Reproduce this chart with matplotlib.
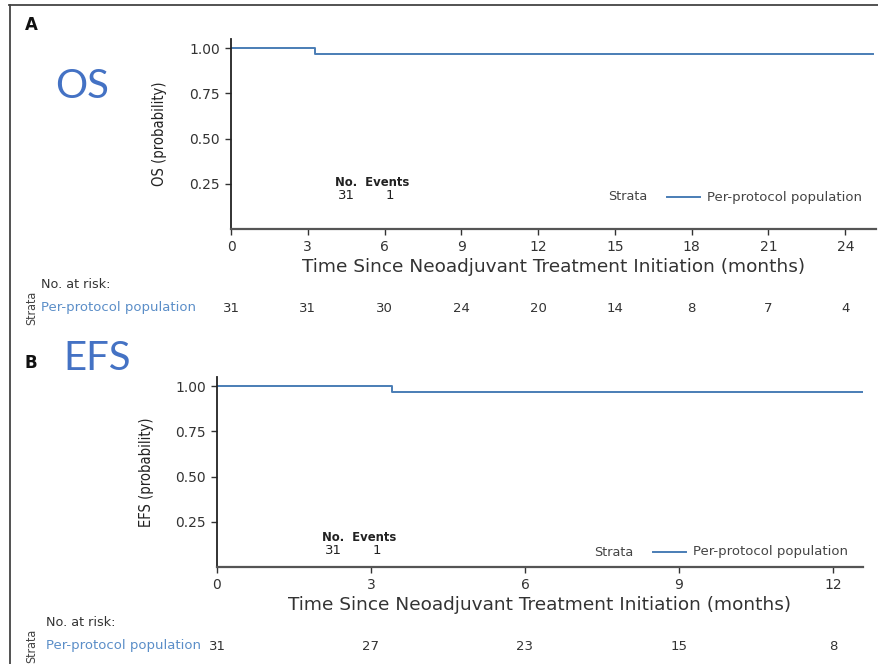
import matplotlib.pyplot as plt
from matplotlib.lines import Line2D
from matplotlib.transforms import blended_transform_factory

W, H = 879, 664
plt.rcParams["font.family"] = ["DejaVu Sans"]

# OS curve (panel A)
os_time = [0, 3.3, 25.1]
os_surv = [1.0, 0.968, 0.968]
os_risk_t = [0, 3, 6, 9, 12, 15, 18, 21, 24]
os_risk_n = [31, 31, 30, 24, 20, 14, 8, 7, 4]
os_xticks = [0, 3, 6, 9, 12, 15, 18, 21, 24]

# EFS curve (panel B)
efs_time = [0, 3.4, 12.58]
efs_surv = [1.0, 0.968, 0.968]
efs_risk_t = [0, 3, 6, 9, 12]
efs_risk_n = [31, 27, 23, 15, 8]
efs_xticks = [0, 3, 6, 9, 12]

n_total = 31
n_events = 1
yticks = [0.25, 0.50, 0.75, 1.00]

line_col = "#4a7db5"
strata_col = "#5b8ec8"
label_blue = "#4472C4"
small = 9.5


def fx(px):
    return px / W


def fy(py):
    return 1 - py / H


fig = plt.figure(figsize=(W / 100, H / 100), dpi=100)

# frame lines along the top and left edge
fig.add_artist(Line2D([fx(9), 1], [fy(5), fy(5)], color="#444444", lw=1.3))
fig.add_artist(Line2D([fx(9.5), fx(9.5)], [fy(5), 0], color="#444444", lw=1.3))


def km_panel(rect, times, surv, xticks, xmax, ylab, risk_t, risk_n,
             letter, big, pos):
    ax = fig.add_axes(rect)
    ax.step(times, surv, where="post", color=line_col, lw=1.4)
    ax.set_xlim(0, xmax)
    ax.set_ylim(0, 1.05)
    ax.set_xticks(xticks)
    ax.set_yticks(yticks)
    ax.set_yticklabels([f"{v:.2f}" for v in yticks])
    for s in ["top", "right"]:
        ax.spines[s].set_visible(False)
    ax.spines["left"].set_color("#222222")
    ax.spines["bottom"].set_color("#555555")
    ax.spines["left"].set_linewidth(1.3)
    ax.spines["bottom"].set_linewidth(1.6)
    ax.tick_params(axis="both", labelsize=10, colors="#333333", length=4,
                   width=1, pad=4)
    ax.set_xlabel("Time Since Neoadjuvant Treatment Initiation (months)",
                  fontsize=13.3, color="#333333", labelpad=3)
    ax.set_ylabel(ylab, fontsize=10.6, fontstretch="condensed",
                  color="#222222", labelpad=pos["ypad"])

    # number / events summary
    nx, ny = pos["no"]
    fig.text(fx(nx), fy(ny), "No.  Events", fontsize=8.4, weight="bold",
             color="#222222", va="baseline")
    fig.text(fx(nx + 3), fy(ny + 13), str(n_total), fontsize=9.5,
             color="#222222", va="baseline")
    fig.text(fx(nx + 51), fy(ny + 13), str(n_events), fontsize=9.5,
             color="#222222", va="baseline")

    # legend
    lx, ly = pos["leg"]
    fig.text(fx(lx), fy(ly), "Strata", fontsize=9.2, color="#444444",
             va="center")
    fig.add_artist(Line2D([fx(lx + 59), fx(lx + 92)], [fy(ly), fy(ly)],
                          color=line_col, lw=1.4))
    fig.text(fx(lx + 99), fy(ly), "Per-protocol population", fontsize=small,
             color="#444444", va="center")

    # risk table
    rx, ry = pos["risk"]
    fig.text(fx(rx), fy(ry - 23), "No. at risk:", fontsize=9.2,
             color="#333333", va="center")
    fig.text(fx(rx), fy(ry), "Per-protocol population", fontsize=small,
             color=strata_col, va="center")
    fig.text(fx(32), fy(ry), "Strata", fontsize=9, rotation=90,
             fontstretch="condensed", color="#444444",
             ha="center", va="center")
    tr = blended_transform_factory(ax.transData, fig.transFigure)
    for t, n in zip(risk_t, risk_n):
        ax.text(t, fy(ry), str(n), transform=tr, fontsize=small,
                color="#333333", ha="center", va="center")

    # panel letter and heading
    fig.text(fx(25), fy(pos["letter"]), letter, fontsize=12, weight="bold",
             color="#111111", va="baseline")
    bx, by = pos["big"]
    fig.text(fx(bx), fy(by), big, fontsize=29, color=label_blue,
             family=["Lato", "DejaVu Sans"], va="baseline")
    return ax


km_panel([fx(231), fy(229), fx(876) - fx(231), (229 - 39) / H],
         os_time, os_surv, os_xticks, 25.2, "OS (probability)",
         os_risk_t, os_risk_n, "A", "OS",
         {"no": (335, 186), "leg": (608, 197), "risk": (41, 308),
          "letter": 30, "big": (55, 98), "ypad": 16})

km_panel([fx(217), fy(567), fx(862.7) - fx(217), (567 - 377) / H],
         efs_time, efs_surv, efs_xticks, 12.58, "EFS (probability)",
         efs_risk_t, efs_risk_n, "B", "EFS",
         {"no": (322, 541), "leg": (594, 552), "risk": (46, 646),
          "letter": 368, "big": (63, 370), "ypad": 15})

fig.savefig("out.png", dpi=100)
